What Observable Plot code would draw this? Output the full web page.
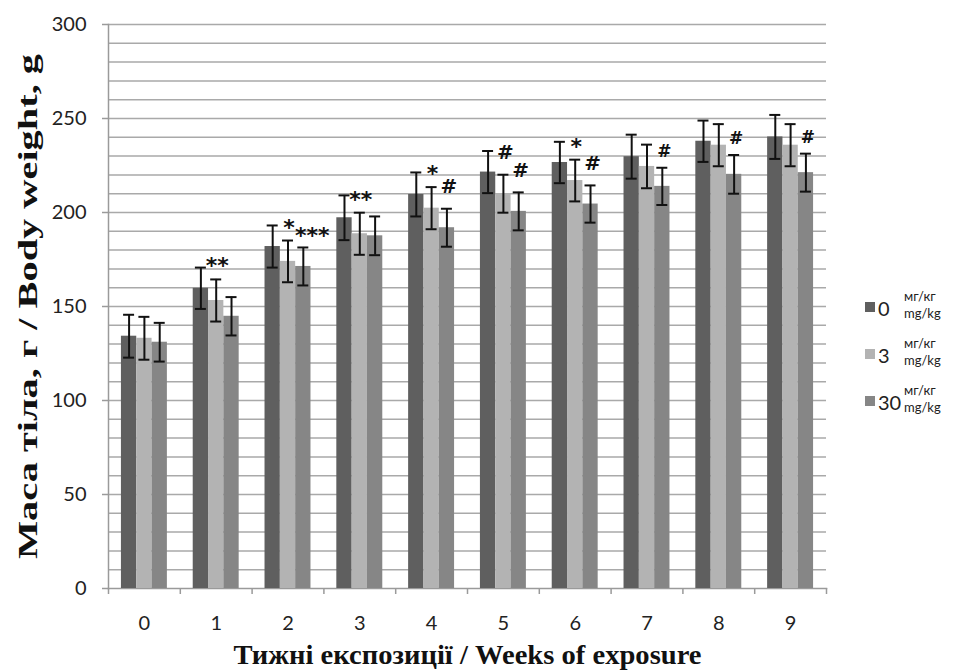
<!DOCTYPE html>
<html>
<head>
<meta charset="utf-8">
<script src="https://cdn.jsdelivr.net/npm/d3@7"></script>
<script src="https://cdn.jsdelivr.net/npm/@observablehq/plot@0.6"></script>
<style>
  body { margin: 0; background: #fff; }
  #wrap { position: relative; width: 963px; height: 672px; }
  #legend { position: absolute; left: 865px; top: 281px; font-family: Lato, "Open Sans", sans-serif; color: #222; }
  .item { display: flex; align-items: center; height: 47px; }
  .sw { width: 10px; height: 10px; margin-right: 3px; margin-top: 5px; }
  .num { font-size: 20px; width: 26px; line-height: 1; margin-top: 7px; white-space: nowrap; }
  .unit { font-size: 13px; line-height: 16.5px; white-space: nowrap; }
</style>
</head>
<body>
<div id="wrap"><div id="chart"></div><div id="legend"></div></div>
<script>
const weeks = [0, 1, 2, 3, 4, 5, 6, 7, 8, 9];
const doses = ["0", "3", "30"];
const doseColors = ["#5f5f5f", "#b3b3b3", "#868686"];
const mean0  = [134.2, 159.7, 181.9, 197.2, 209.6, 221.5, 226.6, 229.7, 237.9, 240.2];
const sd0    = [11.4, 11.0, 11.2, 11.9, 11.7, 11.2, 11.0, 11.7, 11.0, 11.7];
const mean3  = [133.1, 153.2, 174.0, 188.7, 202.3, 210.0, 217.0, 224.5, 235.8, 235.8];
const sd3    = [11.4, 11.2, 11.1, 11.2, 11.2, 10.1, 11.1, 11.6, 11.2, 11.2];
const mean30 = [131.0, 144.8, 171.3, 187.6, 191.9, 200.6, 204.5, 213.9, 220.3, 221.2];
const sd30   = [10.3, 10.2, 10.1, 10.3, 10.1, 10.1, 9.9, 9.9, 10.3, 10.1];
const sigWeek  = [1, 2, 2, 3, 4, 4, 5, 5, 6, 6, 7, 8, 9];
const sigDose  = ["3", "3", "30", "3", "3", "30", "3", "30", "3", "30", "30", "30", "30"];
const sigLabel = ["**", "*", "***", "**", "*", "#", "#", "#", "*", "#", "#", "#", "#"];
const yTicks = [0, 50, 100, 150, 200, 250, 300];
const yTitle = "Маса тіла, г / Body weight, g";
const xTitle = "Тижні експозиції / Weeks of exposure";
const unitUk = "мг/кг", unitEn = "mg/kg";

const means = [mean0, mean3, mean30], sds = [sd0, sd3, sd30];
const data = [];
doses.forEach((dose, i) => weeks.forEach((w, j) => data.push({week: w, dose, di: i, mean: means[i][j], sd: sds[i][j]})));
const rows = new Map(data.map(d => [d.week + "|" + d.dose, d]));
const sig = sigWeek.map((w, k) => ({...rows.get(w + "|" + sigDose[k]), label: sigLabel[k]}));

const half = 0.32, bw = 2 * half / doses.length;
const left = d => d.week - half + d.di * bw;
const mid = d => left(d) + bw / 2;
const bounds = weeks.map(w => w - 0.5).concat([weeks[weeks.length - 1] + 0.5]);

const tickFont = "Lato, 'Open Sans', sans-serif";
const symFont = "'DejaVu Sans', sans-serif";
const serif = "'Liberation Serif', 'Times New Roman', serif";

const chart = Plot.plot({
  width: 963, height: 672,
  marginLeft: 108, marginRight: 137, marginTop: 24, marginBottom: 84,
  x: {domain: [bounds[0], bounds[bounds.length - 1]]},
  y: {domain: [0, 300]},
  color: {domain: doses, range: doseColors},
  marks: [
    Plot.gridY(d3.range(10, 301, 10), {stroke: "#a9a9a9", strokeOpacity: 1, strokeWidth: 1.5}),
    Plot.frame({anchor: "left", stroke: "#9a9a9a", strokeWidth: 1.5}),
    Plot.frame({anchor: "bottom", stroke: "#9a9a9a", strokeWidth: 1.5}),
    Plot.axisY({ticks: yTicks, tickSize: 6, tickPadding: 16, stroke: "#9a9a9a", strokeWidth: 1.5, fill: "#222", fontSize: 20, fontFamily: tickFont, label: null}),
    Plot.axisX({ticks: bounds, tickSize: 6, tickFormat: () => "", stroke: "#9a9a9a", strokeWidth: 1.5, label: null}),
    Plot.axisX({ticks: weeks, tickSize: 0, tickPadding: 27, fill: "#222", fontSize: 20, fontFamily: tickFont, label: null}),
    Plot.rectY(data, {x1: left, x2: d => left(d) + bw, y: "mean", fill: "dose"}),
    Plot.ruleX(data, {x: mid, y1: d => d.mean - d.sd, y2: d => d.mean + d.sd, stroke: "#111", strokeWidth: 2}),
    Plot.ruleY(data, {x1: mid, x2: mid, y: d => d.mean + d.sd, insetLeft: -5.5, insetRight: -5.5, stroke: "#111", strokeWidth: 2}),
    Plot.ruleY(data, {x1: mid, x2: mid, y: d => d.mean - d.sd, insetLeft: -5.5, insetRight: -5.5, stroke: "#111", strokeWidth: 2}),
    Plot.text(sig.filter(d => d.label.startsWith("*") && d.label !== "***"), {x: mid, y: d => d.mean + d.sd, text: "label", dx: 1, dy: -13, fontSize: 22, fontWeight: "bold", fontFamily: symFont, fill: "#111"}),
    Plot.text(sig.filter(d => d.label === "***"), {x: mid, y: d => d.mean + d.sd, text: "label", dx: 9, dy: -12, fontSize: 22, fontWeight: "bold", fontFamily: symFont, fill: "#111"}),
    Plot.text(sig.filter(d => d.label === "#" && d.week < 7), {x: mid, y: d => d.mean + d.sd, text: "label", dx: 2, dy: -22, fontSize: 20, fontWeight: "bold", fontFamily: symFont, fill: "#111"}),
    Plot.text(sig.filter(d => d.label === "#" && d.week >= 7), {x: mid, y: d => d.mean + d.sd, text: "label", dx: 2, dy: -16, fontSize: 17, fontWeight: "bold", fontFamily: symFont, fill: "#111"}),
    Plot.text([yTitle], {frameAnchor: "left", textAnchor: "middle", rotate: -90, dx: -80, fontSize: 28, fontWeight: "bold", fontFamily: serif, fill: "#111"}),
    Plot.text([xTitle], {frameAnchor: "bottom", textAnchor: "middle", dy: 75, fontSize: 28, fontWeight: "bold", fontFamily: serif, fill: "#111"})
  ]
});
document.getElementById("chart").append(chart);

// the reference's titles are stretched along their length
chart.querySelectorAll("text").forEach(t => {
  if (t.textContent === yTitle) { t.setAttribute("textLength", 505); t.setAttribute("lengthAdjust", "spacingAndGlyphs"); }
  if (t.textContent === xTitle) { t.setAttribute("textLength", 468); t.setAttribute("lengthAdjust", "spacingAndGlyphs"); }
});

const legend = document.getElementById("legend");
doses.forEach((dose, i) => {
  const item = document.createElement("div");
  item.className = "item";
  item.innerHTML = `<div class="sw" style="background:${doseColors[i]}"></div><div class="num">${dose}</div><div class="unit">${unitUk}<br>${unitEn}</div>`;
  legend.append(item);
});
</script>
</body>
</html>
